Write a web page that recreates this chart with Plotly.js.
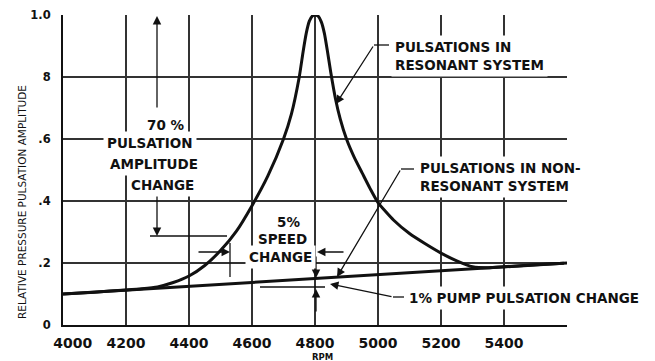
<!DOCTYPE html>
<html>
<head>
<meta charset="utf-8">
<script src="https://cdn.plot.ly/plotly-3.0.1.min.js"></script>
<style>html,body{margin:0;padding:0;background:#fff;}#chart{width:655px;height:361px;}</style>
</head>
<body>
<div id="chart"></div>
<script>
// ---- data ----
const resonantRpm = [4000,4100,4200,4250,4300,4350,4400,4450,4500,4550,4600,4650,4700,4725,4750,4762,4772,4782,4792,4800,4810,4820,4830,4840,4850,4865,4880,4900,4925,4950,4975,5000,5050,5100,5150,5200,5250,5300,5350,5400,5500,5590];
const resonantAmp = [0.100,0.106,0.113,0.117,0.123,0.137,0.158,0.192,0.240,0.302,0.385,0.480,0.600,0.680,0.800,0.880,0.940,0.980,0.997,1.000,0.996,0.978,0.940,0.880,0.815,0.730,0.665,0.600,0.540,0.490,0.440,0.395,0.338,0.295,0.262,0.232,0.207,0.188,0.185,0.188,0.194,0.199];
const nonResRpm = [4000, 5600];
const nonResAmp = [0.100, 0.200];
const xTickVals = [4000,4200,4400,4600,4800,5000,5200,5400];
const xTickText = ['\u00a0\u00a0\u00a0\u00a04000','4200','4400','4600','4800','5000','5200','5400'];
const yTickVals = [0,0.2,0.4,0.6,0.8,1.0];
const yTickText = ['0','.2','.4','.6','8','1.0'];

// ---- layout helpers (pixel -> axis units for annotation placement) ----
const L = 63, R = 88, T = 15, B = 36, W = 655, H = 361;
const PW = W - L - R, PH = H - T - B;
const X = px => 4000 + (px - L) * 1600 / PW;
const Y = py => (T + PH - py) / PH;

const FONT = 'DejaVu Sans';
const ann = [];
function txt(text, px, py, anchor, size) {
  ann.push({text: '<b>' + text + '</b>', x: X(px), y: Y(py), xref: 'x', yref: 'y',
    xanchor: anchor || 'center', yanchor: 'middle', showarrow: false,
    bgcolor: '#fff', borderpad: 3, font: {family: FONT, size: size || 13.5, color: '#111'}});
}
function arrow(x0, y0, x1, y1) {
  ann.push({text: '', x: X(x1), y: Y(y1), ax: X(x0), ay: Y(y0), xref: 'x', yref: 'y',
    axref: 'x', ayref: 'y', showarrow: true, arrowhead: 2, arrowsize: 1.3, arrowwidth: 1.3,
    arrowcolor: '#111', standoff: 0, startstandoff: 0});
}
const shapes = [];
function seg(x0, y0, x1, y1, w) {
  shapes.push({type: 'line', xref: 'x', yref: 'y', x0: X(x0), y0: Y(y0), x1: X(x1), y1: Y(y1),
    line: {color: '#111', width: w || 1.3}, layer: 'above'});
}

// 70% pulsation amplitude change
arrow(157, 109, 157, 16);
arrow(157, 193, 157, 236);
seg(150, 236, 227, 236);
txt('70 %', 165, 125);
txt('PULSATION', 150, 143);
txt('AMPLITUDE', 154, 164);
txt('CHANGE', 162, 185);

// 5% speed change
arrow(197, 252, 230, 252);
seg(230, 243, 230, 277);
arrow(345, 252, 317, 252);
arrow(316, 255, 316, 278);
txt('5%', 288, 222);
txt('SPEED', 282, 239);
txt('CHANGE', 280, 257);

// 1% pump pulsation change
arrow(316, 313, 316, 289);
seg(260, 287, 325, 287);
seg(404, 297, 393, 297);
arrow(393, 297, 330, 284);
txt('1% PUMP PULSATION CHANGE', 405, 298, 'left');

// resonant system label
seg(389, 45, 374, 45);
arrow(374, 45, 336, 104);
txt('PULSATIONS IN', 391, 47, 'left');
txt('RESONANT SYSTEM', 391, 65, 'left');

// non-resonant label
seg(414, 169, 401, 169);
arrow(401, 169, 337, 277);
txt('PULSATIONS IN NON-', 416, 168, 'left');
txt('RESONANT SYSTEM', 416, 186, 'left');

// axis titles
ann.push({text: 'RELATIVE PRESSURE PULSATION AMPLITUDE', xref: 'paper', yref: 'paper',
  x: (22 - L) / PW, y: (T + PH - 202) / PH, textangle: -90, showarrow: false,
  xanchor: 'center', yanchor: 'middle', font: {family: FONT, size: 10.5, color: '#111'}});
ann.push({text: '<b>RPM</b>', xref: 'paper', yref: 'paper',
  x: (322 - L) / PW, y: (T + PH - 356.5) / PH, showarrow: false,
  xanchor: 'center', yanchor: 'middle', font: {family: FONT, size: 8.5, color: '#111'}});

const traces = [
  {x: nonResRpm, y: nonResAmp, mode: 'lines', line: {color: '#111', width: 3}, hoverinfo: 'skip'},
  {x: resonantRpm, y: resonantAmp, mode: 'lines', line: {color: '#111', width: 3, shape: 'spline', smoothing: 0.5}, hoverinfo: 'skip'}
];

const layout = {
  width: W, height: H,
  margin: {l: L, r: R, t: T, b: B, pad: 0},
  paper_bgcolor: '#fff', plot_bgcolor: '#fff',
  showlegend: false,
  font: {family: FONT, color: '#111'},
  xaxis: {range: [4000, 5600], tickvals: xTickVals, ticktext: xTickText, showgrid: true,
    gridcolor: '#333', gridwidth: 2, showline: true, linecolor: '#111', linewidth: 2,
    zeroline: false, ticks: '', ticklabelstandoff: 4,
    tickfont: {family: FONT, size: 14, color: '#111', weight: 'bold'}, fixedrange: true},
  yaxis: {range: [0, 1.0], tickvals: yTickVals, ticktext: yTickText, showgrid: true,
    gridcolor: '#333', gridwidth: 2, showline: true, linecolor: '#111', linewidth: 2,
    zeroline: false, ticks: '', ticklabelstandoff: 8,
    tickfont: {family: FONT, size: 11.5, color: '#111', weight: 'bold'}, fixedrange: true},
  annotations: ann,
  shapes: shapes
};

Plotly.newPlot('chart', traces, layout, {staticPlot: true, displayModeBar: false});
</script>
</body>
</html>
